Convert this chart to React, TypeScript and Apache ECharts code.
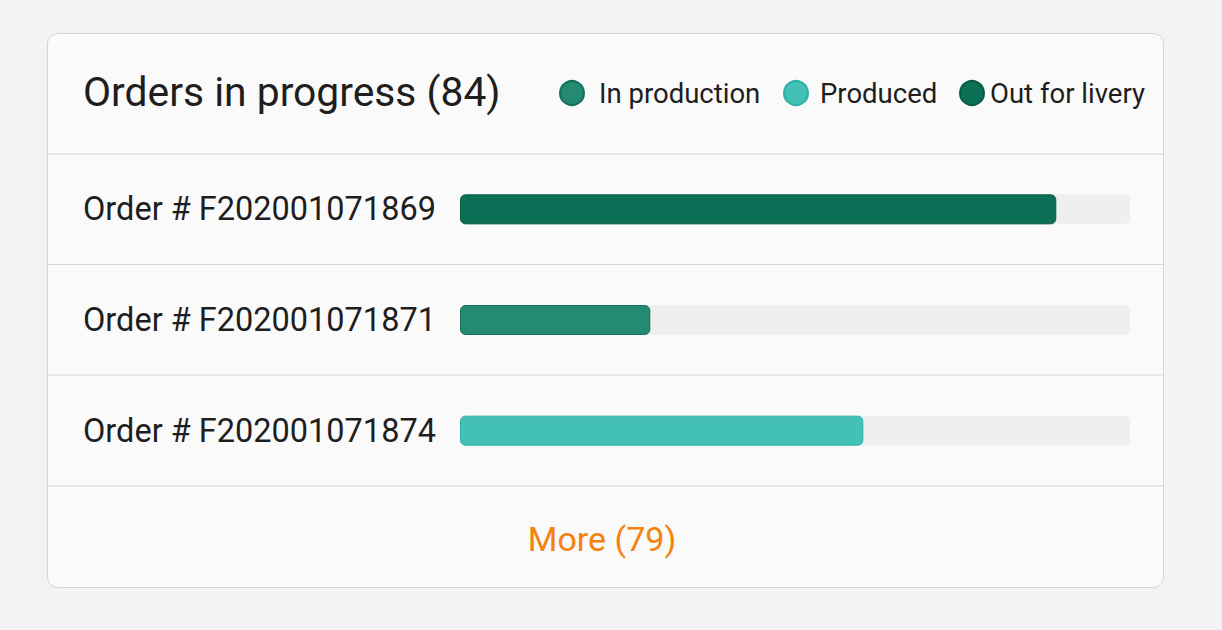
import React, { useEffect, useRef } from "react";
import * as echarts from "echarts";

const orders = ["Order # F202001071869", "Order # F202001071871", "Order # F202001071874"];
const statuses = ["In production", "Produced", "Out for livery"];
const statusColors = ["#248a71", "#43c1b6", "#0b7055"];
const statusBorders = ["#13705a", "#2fb0a4", "#075c45"];
// progress (%) per order, and the status each order is in
const progress = [89, 28.4, 60.2];
const orderStatus = ["Out for livery", "In production", "Produced"];
const trackMax = 100;
const title = "Orders in progress (84)";
const moreLabel = "More (79)";
const legendLeft = [559, 783, 959];
const legendTextPad = [10, 7, 1];

export default function App() {
  const ref = useRef<HTMLDivElement>(null);
  useEffect(() => {
    if (!ref.current) return;
    const chart = echarts.init(ref.current, null, { renderer: "svg" });
    const font = "Roboto, 'Noto Sans', sans-serif";
    const statusSeries = statuses.map((s, i) => ({
      name: s,
      type: "bar",
      stack: "status",
      barWidth: 30,
      barGap: "-100%",
      z: 3,
      itemStyle: {
        color: statusColors[i],
        borderColor: statusBorders[i],
        borderWidth: 1,
        borderRadius: 5,
      },
      data: orders.map((_, k) => (orderStatus[k] === s ? progress[k] : "-")),
    }));
    chart.setOption({
      animation: false,
      backgroundColor: "#f3f3f3",
      textStyle: { fontFamily: font },
      graphic: [
        {
          type: "rect",
          z: -10,
          shape: { x: 47.5, y: 33.5, width: 1116, height: 554, r: 10 },
          style: { fill: "#fafafa", stroke: "#d4d4d4", lineWidth: 1 },
        },
        ...[154, 264.5, 375, 486].map((y) => ({
          type: "line",
          z: -9,
          shape: { x1: 48, y1: y, x2: 1163, y2: y },
          style: { stroke: "#d6d6d6", lineWidth: 1.2 },
        })),
        {
          type: "text",
          x: 83,
          y: 92,
          style: {
            text: title,
            fontSize: 40.8,
            fill: "#1e1e1e",
            fontFamily: font,
            verticalAlign: "middle",
          },
        },
        {
          type: "text",
          x: 602,
          y: 539,
          style: {
            text: moreLabel,
            fontSize: 34,
            fill: "#f5820f",
            fontFamily: font,
            align: "center",
            verticalAlign: "middle",
          },
        },
      ],
      legend: statuses.map((s, i) => ({
        data: [s],
        left: legendLeft[i],
        top: 79,
        padding: 0,
        icon: "circle",
        itemWidth: 24,
        itemHeight: 24,
        selectedMode: false,
        textStyle: {
          fontSize: 27.5,
          color: "#1e1e1e",
          fontFamily: font,
          padding: [0, 0, 0, legendTextPad[i]],
        },
      })),
      grid: { left: 460, right: 92, top: 154, bottom: 144, containLabel: false },
      xAxis: {
        type: "value",
        min: 0,
        max: trackMax,
        show: false,
      },
      yAxis: {
        type: "category",
        inverse: true,
        data: orders,
        axisLine: { show: false },
        axisTick: { show: false },
        splitLine: { show: false },
        axisLabel: {
          align: "left",
          margin: 377,
          fontSize: 32.5,
          color: "#1e1e1e",
          fontFamily: font,
        },
      },
      series: [
        {
          name: "track",
          type: "bar",
          barWidth: 30,
          barGap: "-100%",
          silent: true,
          z: 1,
          itemStyle: { color: "#efefef", borderRadius: 5 },
          data: orders.map(() => trackMax),
        },
        ...statusSeries,
      ],
    });
    return () => chart.dispose();
  }, []);
  return (
    <div
      ref={ref}
      style={{ position: "absolute", left: 0, top: 0, width: 1222, height: 630 }}
    />
  );
}
